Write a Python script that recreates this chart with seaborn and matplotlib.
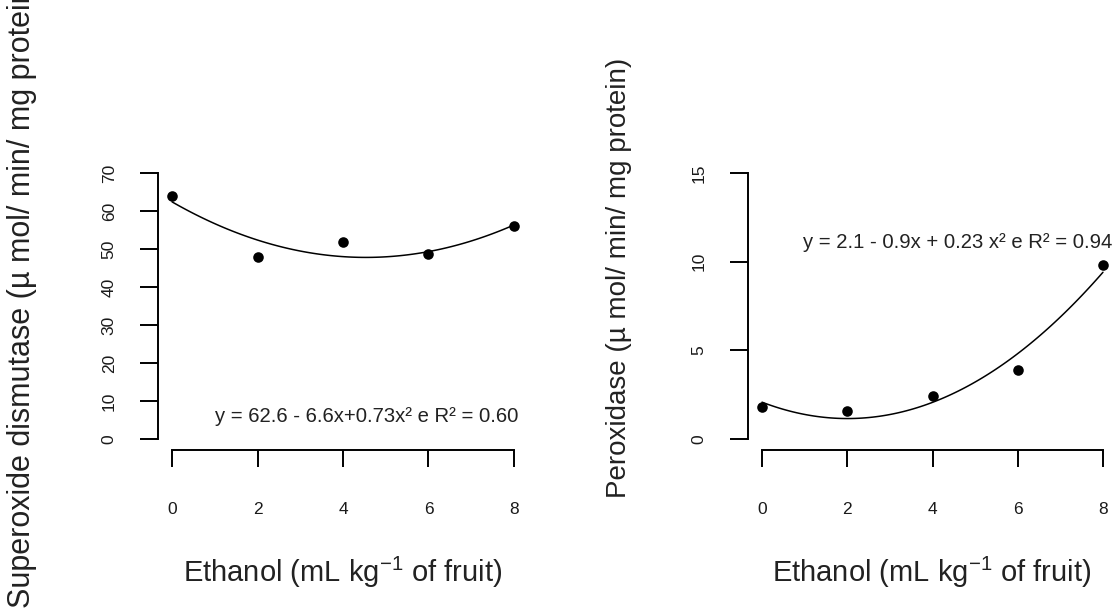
import numpy as np
import pandas as pd
import matplotlib
matplotlib.use("Agg")
import matplotlib.pyplot as plt
import seaborn as sns

# ---- data ----
ethanol = [0, 2, 4, 6, 8]
sod = [64.0, 47.9, 51.8, 48.7, 56.0]
pod = [1.8, 1.58, 2.43, 3.9, 9.8]
sod_yticks = [0, 10, 20, 30, 40, 50, 60, 70]
pod_yticks = [0, 5, 10, 15]
xticks = [0, 2, 4, 6, 8]
sod_eq = "y = 62.6 - 6.6x+0.73x² e R² = 0.60"
pod_eq = "y = 2.1 - 0.9x + 0.23 x² e R² = 0.94"
xlabel = "Ethanol (mL kg$^{-1}$ of fruit)"
sod_ylabel = "Superoxide dismutase (µ mol/ min/ mg protein)"
pod_ylabel = "Peroxidase (µ mol/ min/ mg protein)"

df = pd.DataFrame({"ethanol": ethanol, "sod": sod, "pod": pod})

sns.set_style("ticks")
plt.rcParams["font.family"] = ["Liberation Sans", "DejaVu Sans"]
plt.rcParams["mathtext.fontset"] = "custom"
plt.rcParams["mathtext.rm"] = "Liberation Sans"
plt.rcParams["mathtext.it"] = "Liberation Sans"
plt.rcParams["mathtext.default"] = "regular"

W, H = 1114, 611
fig = plt.figure(figsize=(W / 100, H / 100), dpi=100)
fig.patch.set_facecolor("white")

def px_rect(left, top, right, bottom):
    return [left / W, 1 - bottom / H, (right - left) / W, (bottom - top) / H]

ax1 = fig.add_axes(px_rect(158.4, 162.4, 527.6, 449.6))
ax2 = fig.add_axes(px_rect(748.4, 162.4, 1116.6, 449.6))

def style(ax, ycol, yticks, ylim):
    sns.regplot(data=df, x="ethanol", y=ycol, order=2, ci=None, ax=ax,
                scatter_kws=dict(s=58, color="black", edgecolor="black", linewidths=0,
                                 alpha=1, zorder=3),
                line_kws=dict(color="black", lw=1.1))
    ax.set_xlim(-0.32, 8.32)
    ax.set_ylim(*ylim)
    ax.set_facecolor("white")
    for s in ["top", "right"]:
        ax.spines[s].set_visible(False)
    ax.spines["left"].set_bounds(yticks[0], yticks[-1])
    ax.spines["bottom"].set_bounds(xticks[0], xticks[-1])
    for s in ["left", "bottom"]:
        ax.spines[s].set_color("black")
        ax.spines[s].set_linewidth(1.4)
    ax.set_xticks(xticks)
    ax.set_yticks(yticks)
    ax.set_xticklabels([str(t) for t in xticks])
    ax.set_yticklabels([str(t) for t in yticks], rotation=90, va="center")
    ax.tick_params(axis="y", left=True, direction="out", length=13, width=1.4,
                   color="black", pad=17, labelsize=12.5, labelcolor="#1a1a1a")
    ax.tick_params(axis="x", bottom=True, direction="out", length=12, width=1.4,
                   color="black", pad=26, labelsize=12.5, labelcolor="#1a1a1a")
    ax.set_xlabel("")
    ax.set_ylabel("")

style(ax1, "sod", sod_yticks, (-2.8, 72.8))
style(ax2, "pod", pod_yticks, (-0.6, 15.6))

ax1.text(8.1, 5.8, sod_eq, ha="right", va="center", fontsize=14.6, color="#222222")
ax2.text(8.22, 11.1, pod_eq, ha="right", va="center", fontsize=14.6, color="#222222",
         clip_on=False)

fig.text(343 / W, 1 - 572 / H, xlabel, ha="center", va="center", fontsize=21, color="#222222")
fig.text(932 / W, 1 - 572 / H, xlabel, ha="center", va="center", fontsize=21, color="#222222")

fig.text(22 / W, 1 - 608 / H, sod_ylabel, rotation=90, rotation_mode="anchor",
         ha="left", va="center", fontsize=22, color="#222222")
fig.text(619 / W, 1 - 498 / H, pod_ylabel, rotation=90, rotation_mode="anchor",
         ha="left", va="center", fontsize=20, color="#222222")

fig.savefig("out.png", dpi=100, facecolor="white")
